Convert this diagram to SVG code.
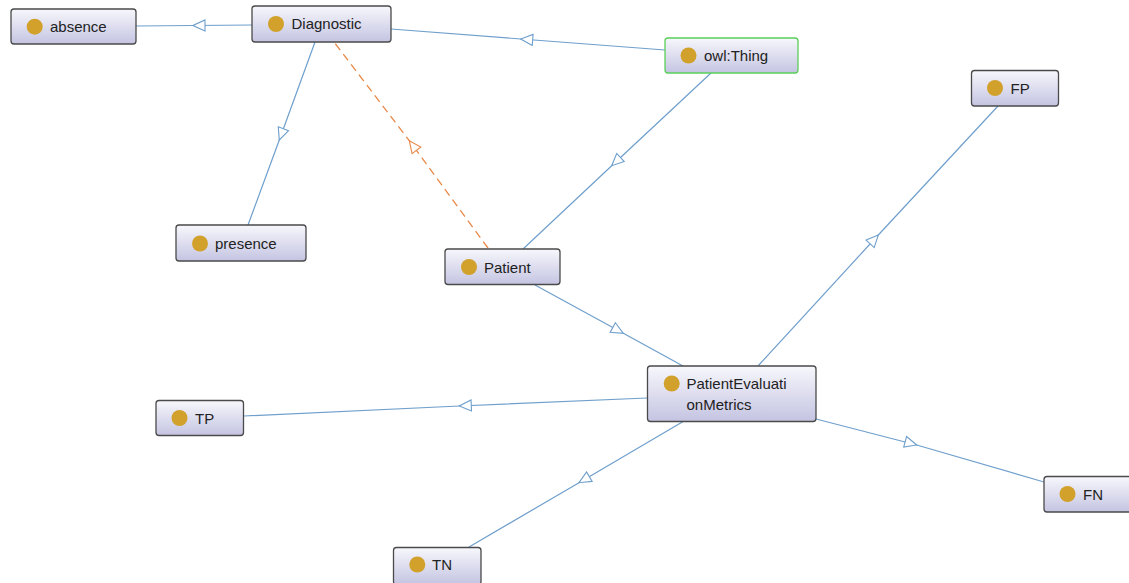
<svg xmlns="http://www.w3.org/2000/svg" width="1129" height="583" viewBox="0 0 1129 583">
<defs>
<linearGradient id="nodeFill" x1="0" y1="0" x2="0" y2="1">
<stop offset="0" stop-color="#f7f7fc"/>
<stop offset="1" stop-color="#c4c4e2"/>
</linearGradient>
<marker id="arrBlue" viewBox="-1 -1 14 13" refX="12" refY="5.5" markerWidth="14" markerHeight="13" markerUnits="userSpaceOnUse" orient="auto">
<path d="M0,0 L12,5.5 L0,11 Z" fill="#ffffff" stroke="#6f9fcc" stroke-width="1.1"/>
</marker>
<marker id="arrOrange" viewBox="-1 -1 14 13" refX="12" refY="5.5" markerWidth="14" markerHeight="13" markerUnits="userSpaceOnUse" orient="auto">
<path d="M0,0 L12,5.5 L0,11 Z" fill="#ffffff" stroke="#e8894a" stroke-width="1.1"/>
</marker>
</defs>
<style>
.box{fill:url(#nodeFill);stroke:#4a4a4a;stroke-width:1.3}
.top{stroke:#5ad05a}
.dot{fill:#d2a12c}
.lbl{font-family:"Liberation Sans",Arial,sans-serif;font-size:15px;fill:#222}
.e{fill:none;stroke:#6f9fcc;stroke-width:1.2;marker-mid:url(#arrBlue)}
.d{fill:none;stroke:#e8894a;stroke-width:1.3;stroke-dasharray:8,5;marker-mid:url(#arrOrange)}
</style>
<rect width="1129" height="583" fill="#ffffff"/>
<g id="connectors">
<path class="e" d="M252,25 L193,25.5 L136,26"/>
<path class="e" d="M665,50 L520.7,39 L391,29"/>
<path class="e" d="M315,42 L279.3,140 L248,225"/>
<path class="d" d="M488,248 L409.3,140.7 L334,42"/>
<path class="e" d="M711,73 L611.7,165.7 L523,249"/>
<path class="e" d="M535,285 L623.3,333.3 L683,366"/>
<path class="e" d="M758,366 L878.3,235 L998,106"/>
<path class="e" d="M647,398 L459.3,406 L244,416"/>
<path class="e" d="M684,421 L579,482.7 L469,547"/>
<path class="e" d="M816,419 L916.7,445 L1044,482"/>
</g>
<g id="absence"><rect class="box" x="11" y="9" width="125" height="35" rx="3"/><circle class="dot" cx="34.7" cy="26.7" r="8"/><text class="lbl" x="50" y="32">absence</text></g>
<g id="Diagnostic"><rect class="box" x="252" y="6" width="139" height="36" rx="3"/><circle class="dot" cx="276" cy="24" r="8"/><text class="lbl" x="291.5" y="29.4">Diagnostic</text></g>
<g id="owlThing"><rect class="box top" x="665" y="38" width="133" height="35" rx="3"/><circle class="dot" cx="688.5" cy="55.5" r="8"/><text class="lbl" x="704" y="61">owl:Thing</text></g>
<g id="FP"><rect class="box" x="971.5" y="70.5" width="87" height="35.5" rx="3"/><circle class="dot" cx="995" cy="88" r="8"/><text class="lbl" x="1010.5" y="93.5">FP</text></g>
<g id="presence"><rect class="box" x="176" y="225" width="130" height="36" rx="3"/><circle class="dot" cx="200" cy="243.5" r="8"/><text class="lbl" x="215" y="249">presence</text></g>
<g id="Patient"><rect class="box" x="445" y="249" width="115" height="35.5" rx="3"/><circle class="dot" cx="469" cy="267" r="8"/><text class="lbl" x="484" y="272.5">Patient</text></g>
<g id="PatientEvaluationMetrics"><rect class="box" x="647.5" y="366" width="168.5" height="55.5" rx="3"/><circle class="dot" cx="671.7" cy="383.5" r="8"/><text class="lbl" x="686.5" y="389"><tspan x="686.5" y="389.2">PatientEvaluati</tspan><tspan x="686.5" y="410.2">onMetrics</tspan></text></g>
<g id="TP"><rect class="box" x="156" y="400.5" width="87.5" height="35" rx="3"/><circle class="dot" cx="179.5" cy="418" r="8"/><text class="lbl" x="195" y="423.5">TP</text></g>
<g id="TN"><rect class="box" x="393.5" y="547.5" width="87.5" height="37" rx="3"/><circle class="dot" cx="417.3" cy="564.5" r="8"/><text class="lbl" x="432" y="570">TN</text></g>
<g id="FN"><rect class="box" x="1044" y="476.5" width="90" height="35.5" rx="3"/><circle class="dot" cx="1067.5" cy="494" r="8"/><text class="lbl" x="1083" y="499.5">FN</text></g>
</svg>
